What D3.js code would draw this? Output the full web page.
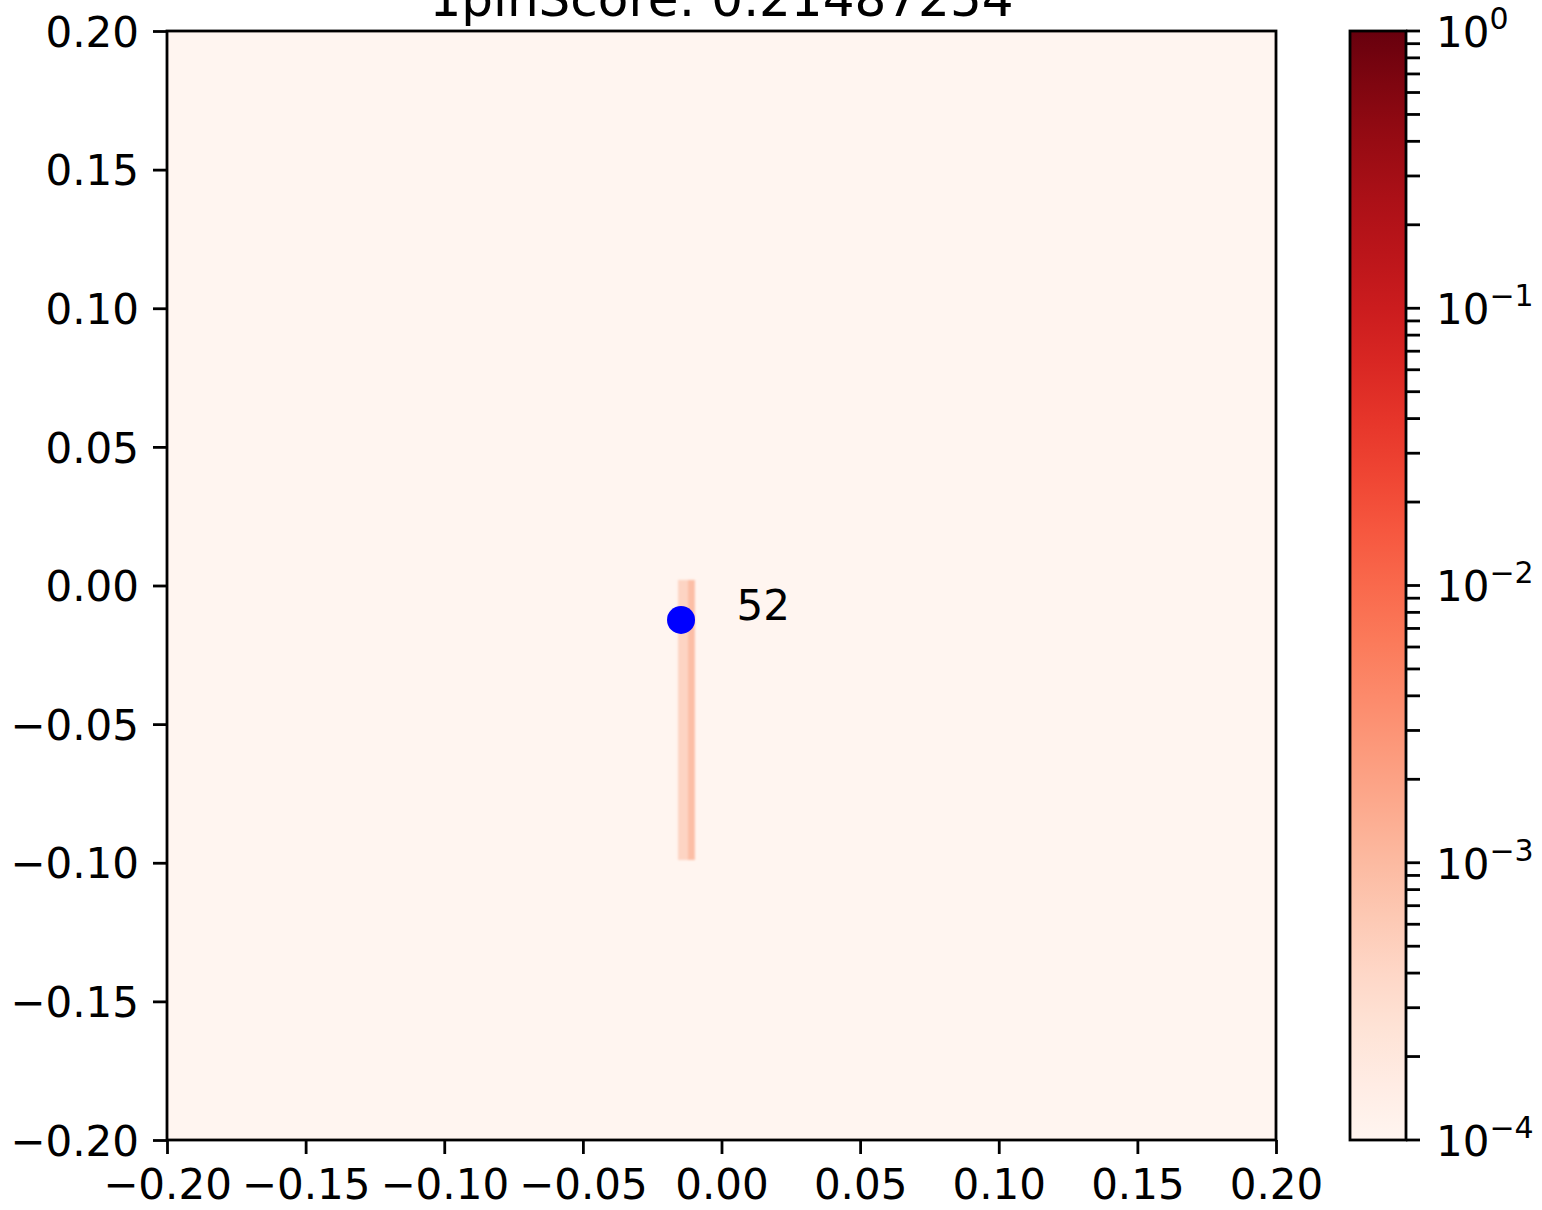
<!DOCTYPE html>
<html>
<head>
<meta charset="utf-8">
<script src="https://cdn.jsdelivr.net/npm/d3@7"></script>
<style>
  body { margin: 0; background: #fff; }
  svg text { font-family: "DejaVu Sans", sans-serif; }
</style>
</head>
<body>
<svg id="chart" width="1542" height="1210"></svg>
<script>
// heatmap values
const titleText = "1pinScore: 0.21487254";
const backgroundValue = 1e-4;
// streak cells: [x0, x1, y0, y1, value]
const streakX0 = [-0.0157, -0.0121];
const streakX1 = [-0.0121, -0.0096];
const streakY0 = [-0.099, -0.099];
const streakY1 = [0.002, 0.002];
const streakVal = [4.4e-4, 9e-4];

const pointX = [-0.0146];
const pointY = [-0.0124];
const pointLabel = ["52"];

const axisTicks = [-0.20, -0.15, -0.10, -0.05, 0.00, 0.05, 0.10, 0.15, 0.20];
const cbarMajor = [-4, -3, -2, -1, 0];

const plot = { left: 167, top: 31, size: 1109 };
const cbar = { left: 1350, width: 56 };

const svg = d3.select("#chart");

const x = d3.scaleLinear().domain([-0.2, 0.2]).range([plot.left, plot.left + plot.size]);
const y = d3.scaleLinear().domain([-0.2, 0.2]).range([plot.top + plot.size, plot.top]);
const c = d3.scaleLog().domain([1e-4, 1]).range([plot.top + plot.size, plot.top]);
const colorOf = v => d3.interpolateReds((Math.log10(v) + 4) / 4);

// blur for the interpolated look of the streak
const defs = svg.append("defs");
defs.append("filter").attr("id", "soft")
    .attr("x", "-50%").attr("y", "-5%").attr("width", "200%").attr("height", "110%")
  .append("feGaussianBlur").attr("stdDeviation", 1.3);

const grad = defs.append("linearGradient").attr("id", "reds")
    .attr("x1", 0).attr("y1", 1).attr("x2", 0).attr("y2", 0);
d3.range(0, 1.0001, 0.05).forEach(t => {
  grad.append("stop").attr("offset", t).attr("stop-color", d3.interpolateReds(t));
});

// background of image
svg.append("rect")
  .attr("x", x(-0.2)).attr("y", y(0.2))
  .attr("width", x(0.2) - x(-0.2)).attr("height", y(-0.2) - y(0.2))
  .attr("fill", colorOf(backgroundValue));

svg.append("g").attr("filter", "url(#soft)")
  .selectAll("rect")
  .data(streakVal.map((v, i) => ({ x0: streakX0[i], x1: streakX1[i], y0: streakY0[i], y1: streakY1[i], v })))
  .join("rect")
    .attr("x", d => x(d.x0))
    .attr("y", d => y(d.y1))
    .attr("width", d => x(d.x1) - x(d.x0))
    .attr("height", d => y(d.y0) - y(d.y1))
    .attr("fill", d => colorOf(d.v));

// point + label
const pts = pointX.map((px, i) => ({ px, py: pointY[i], lab: pointLabel[i] }));
svg.selectAll("circle.pt")
  .data(pts)
  .join("circle")
    .attr("class", "pt")
    .attr("cx", d => x(d.px)).attr("cy", d => y(d.py))
    .attr("r", 14)
    .attr("fill", "#0000ff");

svg.selectAll("text.lab")
  .data(pts)
  .join("text")
    .attr("class", "lab")
    .attr("x", d => x(d.px + 0.02)).attr("y", d => y(d.py))
    .attr("font-size", 42)
    .text(d => d.lab);

// axes
const fmt = d3.format(".2f");
const styleAxis = g => {
  g.selectAll(".domain").remove();
  g.selectAll(".tick line").attr("stroke", "#000").attr("stroke-width", 2.8);
  g.selectAll(".tick text").attr("font-size", 42).attr("fill", "#000")
    .attr("font-family", "DejaVu Sans, sans-serif");
};
svg.append("g")
  .attr("transform", `translate(0,${plot.top + plot.size})`)
  .call(d3.axisBottom(x).tickValues(axisTicks).tickFormat(fmt).tickSize(14).tickPadding(15))
  .call(styleAxis);
svg.append("g")
  .attr("transform", `translate(${plot.left},0)`)
  .call(d3.axisLeft(y).tickValues(axisTicks).tickFormat(fmt).tickSize(14).tickPadding(14))
  .call(styleAxis)
  .selectAll(".tick text").attr("dy", "0.36em");

// frame
svg.append("rect")
  .attr("x", x(-0.2)).attr("y", y(0.2))
  .attr("width", x(0.2) - x(-0.2)).attr("height", y(-0.2) - y(0.2))
  .attr("fill", "none").attr("stroke", "#000").attr("stroke-width", 2.8);

// title
svg.append("text")
  .attr("x", (x(-0.2) + x(0.2)) / 2).attr("y", 16)
  .attr("text-anchor", "middle")
  .attr("font-size", 50)
  .text(titleText);

// colorbar
svg.append("rect")
  .attr("x", cbar.left).attr("y", c(1))
  .attr("width", cbar.width).attr("height", c(1e-4) - c(1))
  .attr("fill", "url(#reds)");

const minor = [];
cbarMajor.slice(0, -1).forEach(e => {
  for (let k = 2; k <= 9; k++) minor.push(k * Math.pow(10, e));
});
const cbx = cbar.left + cbar.width;
svg.append("g").selectAll("line")
  .data(minor.concat(cbarMajor.map(e => Math.pow(10, e))))
  .join("line")
    .attr("x1", cbx).attr("x2", cbx + 14)
    .attr("y1", d => c(d)).attr("y2", d => c(d))
    .attr("stroke", "#000").attr("stroke-width", 2.8);

const cl = svg.append("g").selectAll("text")
  .data(cbarMajor)
  .join("text")
    .attr("x", cbx + 30)
    .attr("y", d => c(Math.pow(10, d)))
    .attr("dy", "0.38em")
    .attr("font-size", 42);
cl.append("tspan").text("10");
cl.append("tspan")
  .attr("font-size", 30)
  .attr("dy", "-0.6em")
  .text(d => d === 0 ? "0" : "\u2212" + Math.abs(d));

svg.append("rect")
  .attr("x", cbar.left).attr("y", c(1))
  .attr("width", cbar.width).attr("height", c(1e-4) - c(1))
  .attr("fill", "none").attr("stroke", "#000").attr("stroke-width", 2.8);
</script>
</body>
</html>
